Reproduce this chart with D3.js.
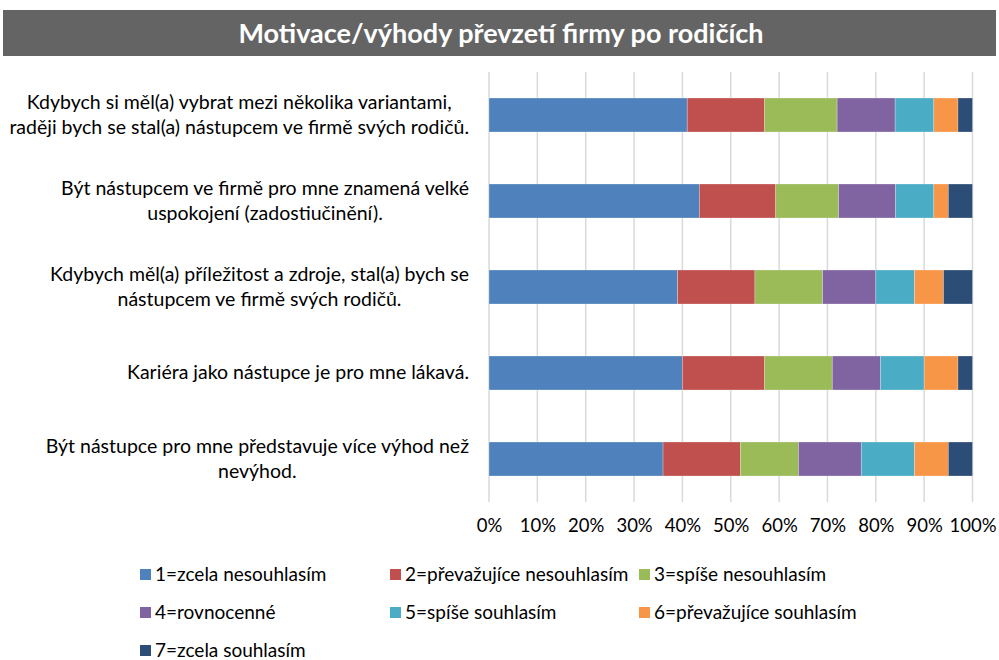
<!DOCTYPE html>
<html><head><meta charset="utf-8">
<script src="https://cdn.jsdelivr.net/npm/d3@7"></script>
<style>body{margin:0;background:#fff}svg{display:block}</style>
</head><body>
<svg id="c" width="999" height="660"></svg>
<script>
const title = "Motivace/výhody převzetí firmy po rodičích";
const categories = [
  ["Kdybych si měl(a) vybrat mezi několika variantami,", "raději bych se stal(a) nástupcem ve firmě svých rodičů."],
  ["Být nástupcem ve firmě pro mne znamená velké", "uspokojení (zadostiučinění)."],
  ["Kdybych měl(a) příležitost a zdroje, stal(a) bych se", "nástupcem ve firmě svých rodičů."],
  ["Kariéra jako nástupce je pro mne lákavá."],
  ["Být nástupce pro mne představuje více výhod než", "nevýhod."]
];
const seriesNames = ["1=zcela nesouhlasím","2=převažujíce nesouhlasím","3=spíše nesouhlasím","4=rovnocenné","5=spíše souhlasím","6=převažujíce souhlasím","7=zcela souhlasím"];
const s1 = [41, 43.5, 39, 40, 36];
const s2 = [16, 15.8, 16, 17, 16];
const s3 = [15, 13, 14, 14, 12];
const s4 = [12, 11.8, 11, 10, 13];
const s5 = [8, 7.9, 8, 9, 11];
const s6 = [5, 3, 6, 7, 7];
const s7 = [3, 5, 6, 3, 5];
const colors = ["#4F81BD","#C0504D","#9BBB59","#8064A2","#4BACC6","#F79646","#2C4D75"];
const ticks = [0,10,20,30,40,50,60,70,80,90,100];

const series = [s1,s2,s3,s4,s5,s6,s7];
const font = "Lato, 'Open Sans', sans-serif";
const svg = d3.select("#c");

// title bar
svg.append("rect").attr("x",3).attr("y",10).attr("width",993).attr("height",46).attr("fill","#646464");
svg.append("text").attr("x",501).attr("y",43).attr("text-anchor","middle")
  .attr("font-family",font).attr("font-weight","bold").attr("font-size",27).attr("fill","#fff").text(title);

const x = d3.scaleLinear().domain([0,100]).range([489,972.5]);
const y = d3.scaleBand().domain(d3.range(categories.length)).range([72,502]).paddingInner(0.605).paddingOuter(0.3025);

// gridlines
svg.append("g").selectAll("line").data(ticks).join("line")
  .attr("x1",d=>x(d)).attr("x2",d=>x(d)).attr("y1",72).attr("y2",502)
  .attr("stroke","#d9d9d9").attr("stroke-width",1.5);

// tick labels
const ax = svg.append("g").attr("transform","translate(0,502)")
  .call(d3.axisBottom(x).tickValues(ticks).tickFormat(d=>d+"%").tickSize(0).tickPadding(17));
ax.select(".domain").remove();
ax.selectAll("text").attr("font-family",font).attr("font-size",18.5).attr("fill","#000");

// stacked bars
const rows = categories.map((c,i)=>{const o={i}; series.forEach((s,k)=>o["k"+k]=s[i]); return o;});
const stack = d3.stack().keys(series.map((s,k)=>"k"+k))(rows);
svg.append("g").selectAll("g").data(stack).join("g").attr("fill",(d,k)=>colors[k])
  .selectAll("rect").data(d=>d).join("rect")
  .attr("x",d=>x(d[0])).attr("width",d=>x(d[1])-x(d[0]))
  .attr("y",(d,i)=>y(i)).attr("height",y.bandwidth())
  .attr("stroke","rgba(255,255,255,0.35)").attr("stroke-width",0.7);

// category labels
const lab = svg.append("g");
categories.forEach((lines,i)=>{
  const g = lab.append("g");
  const cy = y(i)+y.bandwidth()/2;
  const lh = 25;
  const ts = lines.map((t,j)=>g.append("text").attr("font-family",font).attr("font-size",19.5).attr("fill","#000")
    .attr("text-anchor","middle").attr("y",cy-(lines.length-1)*lh/2+j*lh+6).text(t));
  const maxW = d3.max(ts,t=>t.node().getComputedTextLength());
  ts.forEach(t=>t.attr("x",469-maxW/2));
});

// legend
const legPos = [[140,581],[390,581],[639,581],[140,619],[390,619],[639,619],[140,657]];
const leg = svg.append("g");
seriesNames.forEach((n,k)=>{
  const [lx,ly]=legPos[k];
  leg.append("rect").attr("x",lx).attr("y",ly-12).attr("width",11).attr("height",11).attr("fill",colors[k]);
  leg.append("text").attr("x",lx+15).attr("y",ly).attr("font-family",font).attr("font-size",19).attr("fill","#000").text(n);
});
</script>
</body></html>
